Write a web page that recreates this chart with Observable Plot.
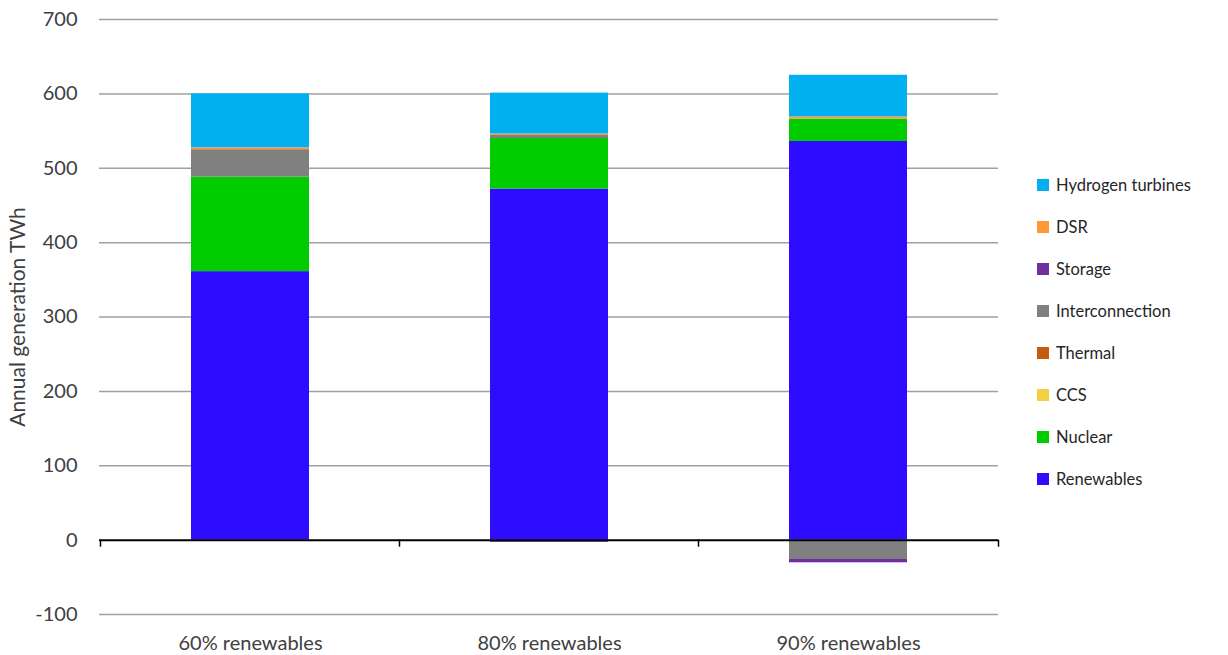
<!DOCTYPE html>
<html>
<head>
<meta charset="utf-8">
<script src="https://cdn.jsdelivr.net/npm/d3@7"></script>
<script src="https://cdn.jsdelivr.net/npm/@observablehq/plot@0.6"></script>
<style>
  html, body { margin: 0; padding: 0; background: #fff; }
  #wrap { position: relative; width: 1228px; height: 655px; font-family: Lato, "Noto Sans", sans-serif; }
  #legend { position: absolute; left: 1037px; top: 164px; }
  .item { display: flex; align-items: center; height: 42px; font-size: 16.5px; color: #262626; }
  .sw { width: 12px; height: 12px; margin-right: 7px; }
</style>
</head>
<body>
<div id="wrap"><div id="legend"></div></div>
<script>
const categories = ["60% renewables", "80% renewables", "90% renewables"];
const series = ["Renewables", "Nuclear", "CCS", "Thermal", "Interconnection", "Storage", "DSR", "Hydrogen turbines"];
const colors = ["#2e0cff", "#00cc00", "#f2d040", "#c55a11", "#808080", "#7030a0", "#ff9933", "#00b0f0"];
const renewables = [361, 472, 536];
const nuclear = [127, 68, 30];
const ccs = [0, 0, 0];
const thermal = [0, 0, 0];
const interconnection = [37, 4, -26];
const storage = [0, -3, -4.5];
const dsr = [2.5, 2, 3];
const hydrogen = [72.5, 55, 56];
const yTicks = [-100, 0, 100, 200, 300, 400, 500, 600, 700];
const yLabel = "Annual generation TWh";

const seriesValues = [renewables, nuclear, ccs, thermal, interconnection, storage, dsr, hydrogen];
const data = [];
series.forEach((s, si) => categories.forEach((c, ci) => data.push({category: c, series: s, value: seriesValues[si][ci]})));

const chart = Plot.plot({
  width: 1228,
  height: 655,
  marginTop: 19,
  marginBottom: 41,
  marginLeft: 99,
  marginRight: 230,
  style: {fontFamily: "Lato, 'Noto Sans', sans-serif", fontSize: "20px", color: "#404040", background: "#fff"},
  x: {domain: categories, paddingInner: 0.607, paddingOuter: 0.302, tickSize: 0, tickPadding: 21, label: null},
  y: {domain: [-100, 700], ticks: yTicks, tickSize: 0, tickPadding: 22, tickFormat: d => String(d), label: null},
  color: {domain: series, range: colors},
  marks: [
    Plot.ruleY(yTicks.filter(d => d !== 0), {stroke: "#a0a0a0", strokeWidth: 1.5}),
    Plot.barY(data, {x: "category", y: "value", fill: "series", order: series}),
    Plot.ruleY([0], {stroke: "#000", strokeWidth: 2}),
    Plot.ruleX(categories, {x: d => d, dx: -150, y1: 0, y2: -9.5, stroke: "#000", strokeWidth: 1.5}),
    Plot.ruleX([categories[categories.length - 1]], {x: d => d, dx: 150, y1: 0, y2: -9.5, stroke: "#000", strokeWidth: 1.5}),
    Plot.text([yLabel], {text: d => d, frameAnchor: "left", rotate: -90, textAnchor: "middle", dx: -81,
      fontSize: 21, fill: "#404040"})
  ]
});
document.getElementById("wrap").prepend(chart);

const legend = document.getElementById("legend");
series.slice().reverse().forEach(s => {
  const item = document.createElement("div");
  item.className = "item";
  const sw = document.createElement("span");
  sw.className = "sw";
  sw.style.background = colors[series.indexOf(s)];
  item.appendChild(sw);
  item.appendChild(document.createTextNode(s));
  legend.appendChild(item);
});
</script>
</body>
</html>
